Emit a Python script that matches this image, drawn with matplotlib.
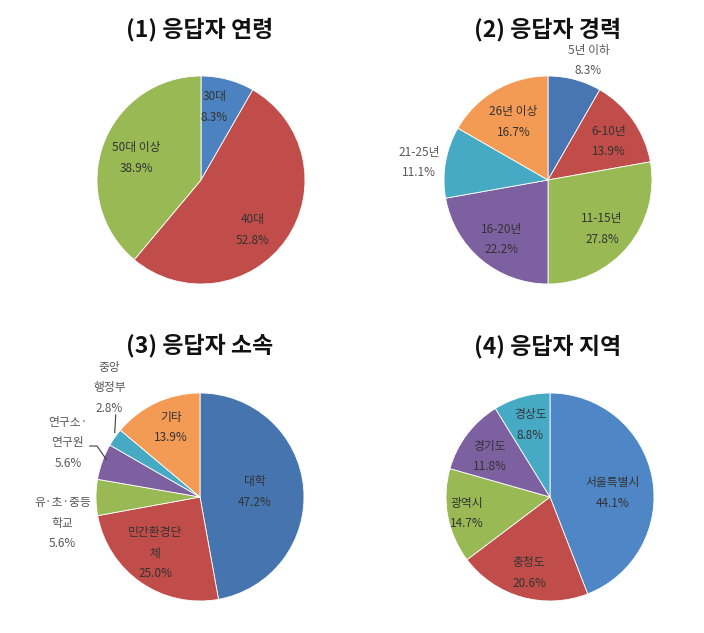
import matplotlib
matplotlib.use("Agg")
import matplotlib.pyplot as plt

plt.rcParams['font.family'] = ['Noto Sans CJK KR', 'DejaVu Sans']

# ---- data ----
titles = ["(1) 응답자 연령", "(2) 응답자 경력", "(3) 응답자 소속", "(4) 응답자 지역"]

age_labels = ["30대", "40대", "50대 이상"]
age_values = [8.3, 52.8, 38.9]

career_labels = ["5년 이하", "6-10년", "11-15년", "16-20년", "21-25년", "26년 이상"]
career_values = [8.3, 13.9, 27.8, 22.2, 11.1, 16.7]

org_labels = ["대학", "민간환경단\n체", "유·초·중등\n학교", "연구소·\n연구원", "중앙\n행정부", "기타"]
org_values = [47.2, 25.0, 5.6, 5.6, 2.8, 13.9]

region_labels = ["서울특별시", "충청도", "광역시", "경기도", "경상도"]
region_values = [44.1, 20.6, 14.7, 11.8, 8.8]

# ---- styling / layout ----
C_RED, C_GREEN = "#c04d4a", "#98b954"
C_PURPLE, C_AQUA, C_ORANGE = "#7d60a0", "#46aac5", "#f39a55"
blues = ["#4d82c0", "#4776b2", "#4674ae", "#4f86c6"]

W, H = 704, 633
R_PX = 104  # pie radius in pixels
BOX = 320   # axes size in pixels

# label offsets (in pie-radius units) and whether label is outside
label_pos = [
    [(0.13, 0.70), (0.50, -0.48), (-0.62, 0.21)],
    [(0.39, 1.15), (0.58, 0.37), (0.52, -0.47), (-0.45, -0.57), (-1.24, 0.17), (-0.33, 0.56)],
    [(0.53, 0.05), (-0.43, -0.54), (-1.32, -0.25), (-1.27, 0.52), (-0.87, 1.05), (-0.28, 0.67)],
    [(0.60, 0.04), (-0.20, -0.73), (-0.80, -0.16), (-0.58, 0.39), (-0.19, 0.69)],
]
outside = [
    [False, False, False],
    [True, False, False, False, True, False],
    [False, False, True, True, True, False],
    [False, False, False, False, False],
]
centers = [(201, 180), (548, 180), (200, 497), (550, 497)]
title_y = [30, 29, 346, 347]
title_x = [200, 548, 200, 548]

datasets = [
    (age_labels, age_values),
    (career_labels, career_values),
    (org_labels, org_values),
    (region_labels, region_values),
]

fig = plt.figure(figsize=(W / 100, H / 100), dpi=100)
fig.patch.set_facecolor("white")

lim = BOX / (2 * R_PX)
for i, (labs, vals) in enumerate(datasets):
    cx, cy = centers[i]
    palette = [blues[i], C_RED, C_GREEN, C_PURPLE, C_AQUA, C_ORANGE]
    ax = fig.add_axes([(cx - BOX / 2) / W, 1 - (cy + BOX / 2) / H, BOX / W, BOX / H])
    ax.pie(vals, colors=palette[:len(vals)], startangle=90, counterclock=False,
           radius=1.0, wedgeprops=dict(edgecolor="white", linewidth=0.6))
    ax.set_xlim(-lim, lim)
    ax.set_ylim(-lim, lim)
    ax.set_aspect("equal")
    ax.axis("off")
    for lab, v, (dx, dy), out in zip(labs, vals, label_pos[i], outside[i]):
        txt = f"{lab}\n{v:.1f}%"
        ax.text(dx, dy, txt, ha="center", va="center", fontsize=8.5,
                color="#595959" if out else "#333333", linespacing=1.75)
    fig.text(title_x[i] / W, 1 - title_y[i] / H, titles[i], ha="center", va="center",
             fontsize=16.5, fontweight="bold", color="#111111")

# leader lines for chart 3 small slices
ax3 = fig.axes[2]
ax3.plot([-1.06, -0.99, -0.90], [0.49, 0.49, 0.36], color="#404040", lw=0.8)
ax3.plot([-0.81, -0.82], [0.79, 0.62], color="#404040", lw=0.8)

fig.savefig("out.png", dpi=100, facecolor="white")
